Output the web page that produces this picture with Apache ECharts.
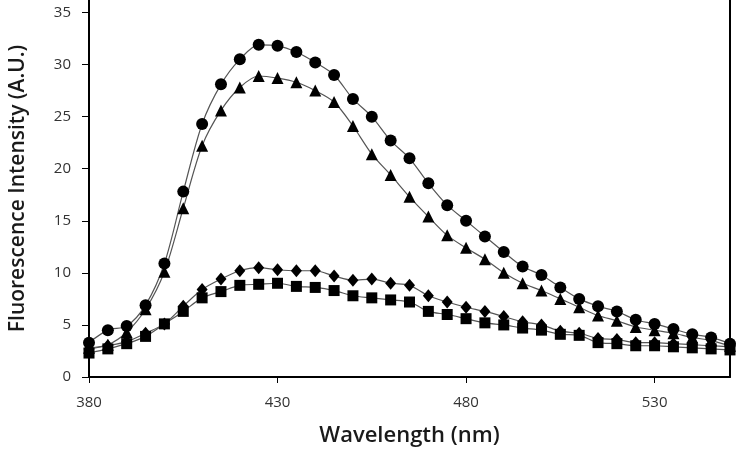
<!DOCTYPE html>
<html>
<head>
<meta charset="utf-8">
<script src="https://cdn.jsdelivr.net/npm/echarts@6/dist/echarts.min.js"></script>
<style>
  html, body { margin: 0; padding: 0; background: #fff; }
  #chart { width: 738px; height: 452px; }
</style>
</head>
<body>
<div id="chart"></div>
<script>
// wavelength (nm)
var wavelength = [380, 385, 390, 395, 400, 405, 410, 415, 420, 425, 430, 435, 440, 445, 450, 455, 460, 465,
    470, 475, 480, 485, 490, 495, 500, 505, 510, 515, 520, 525, 530, 535, 540, 545, 550];
// intensity values
var circleVals = [3.3, 4.5, 4.9, 6.9, 10.9, 17.8, 24.3, 28.1, 30.5, 31.9, 31.8, 31.2, 30.2, 29.0, 26.7, 25.0, 22.7, 21.0,
    18.6, 16.5, 15.0, 13.5, 12.0, 10.6, 9.8, 8.6, 7.5, 6.8, 6.3, 5.5, 5.1, 4.6, 4.1, 3.8, 3.2];
var triangleVals = [2.8, 3.1, 4.3, 6.5, 10.1, 16.2, 22.2, 25.6, 27.8, 28.9, 28.7, 28.3, 27.5, 26.4, 24.1, 21.4, 19.4, 17.3,
    15.4, 13.6, 12.4, 11.3, 10.0, 9.0, 8.3, 7.5, 6.7, 5.9, 5.4, 4.8, 4.5, 4.2, 3.8, 3.5, 3.0];
var diamondVals = [2.7, 3.0, 3.4, 4.2, 5.1, 6.8, 8.4, 9.4, 10.2, 10.5, 10.3, 10.2, 10.2, 9.7, 9.3, 9.4, 9.0, 8.8,
    7.8, 7.2, 6.7, 6.3, 5.8, 5.3, 5.0, 4.4, 4.2, 3.7, 3.6, 3.3, 3.3, 3.2, 3.1, 3.0, 2.9];
var squareVals = [2.3, 2.7, 3.2, 3.9, 5.1, 6.3, 7.6, 8.2, 8.8, 8.9, 9.0, 8.7, 8.6, 8.3, 7.8, 7.6, 7.4, 7.2,
    6.3, 6.0, 5.6, 5.2, 5.0, 4.7, 4.5, 4.1, 4.0, 3.3, 3.2, 3.0, 3.0, 2.9, 2.8, 2.7, 2.6];

function pairs(vals) {
    return wavelength.map(function (w, i) { return [w, vals[i]]; });
}

function makeSeries(name, vals, symbol, size) {
    return {
        name: name,
        type: 'line',
        data: pairs(vals),
        smooth: 0.3,
        symbol: symbol,
        symbolSize: size,
        showAllSymbol: true,
        lineStyle: { color: '#555', width: 1.2 },
        itemStyle: { color: '#000' },
        z: 3
    };
}

var myChart = echarts.init(document.getElementById('chart'));
var font = '"Open Sans", "Noto Sans", sans-serif';

myChart.setOption({
    animation: false,
    backgroundColor: '#fff',
    grid: { left: 88, right: 8, top: 0, bottom: 72 },
    xAxis: {
        type: 'value',
        min: 380,
        max: 550,
        interval: 50,
        name: 'Wavelength (nm)',
        nameLocation: 'middle',
        nameGap: 48,
        nameTextStyle: { fontFamily: font, fontSize: 22, fontWeight: 600, color: '#1a1a1a' },
        axisLine: { show: true, lineStyle: { color: '#000', width: 2 } },
        axisTick: { show: true, length: 6, lineStyle: { color: '#000', width: 1 } },
        axisLabel: { showMaxLabel: false, margin: 18, fontFamily: font, fontSize: 15, color: '#333' },
        splitLine: { show: false }
    },
    yAxis: [{
        type: 'value',
        min: 0,
        max: 36.2,
        interval: 5,
        name: 'Fluorescence Intensity (A.U.)',
        nameLocation: 'middle',
        nameGap: 60,
        nameTextStyle: { fontFamily: font, fontSize: 21, fontWeight: 600, color: '#1a1a1a' },
        axisLine: { show: true, lineStyle: { color: '#000', width: 2 } },
        axisTick: { show: true, length: 7, lineStyle: { color: '#000', width: 1 } },
        axisLabel: { showMaxLabel: false, margin: 18, fontFamily: font, fontSize: 15, color: '#333' },
        splitLine: { show: false }
    }, {
        type: 'value',
        min: 0,
        max: 36.2,
        position: 'right',
        axisLine: { show: true, lineStyle: { color: '#000', width: 2 } },
        axisTick: { show: false },
        axisLabel: { show: false },
        splitLine: { show: false }
    }],
    series: [
        makeSeries('circle', circleVals, 'circle', 12),
        makeSeries('triangle', triangleVals, 'triangle', 12),
        makeSeries('diamond', diamondVals, 'diamond', [11, 13]),
        makeSeries('square', squareVals, 'rect', 11)
    ]
});
</script>
</body>
</html>
